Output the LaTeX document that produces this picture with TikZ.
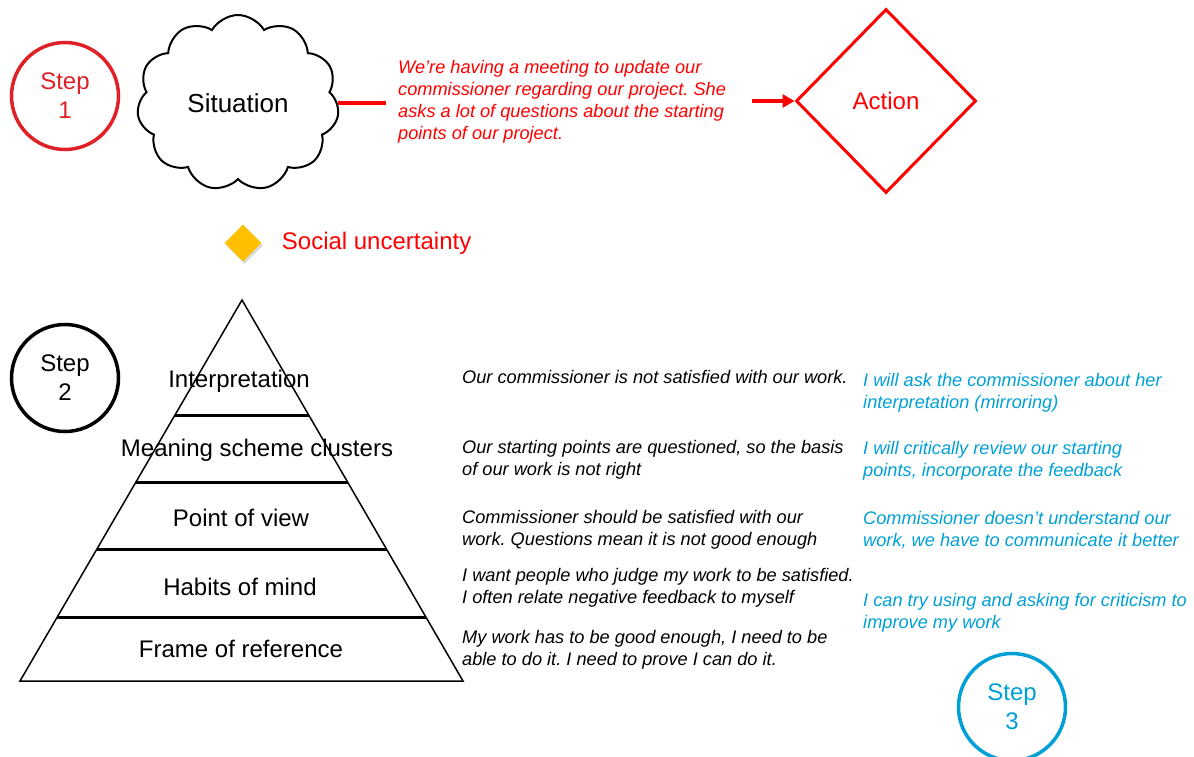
\documentclass[tikz,border=0pt]{standalone}
\usepackage{fontspec}
\setmainfont{Liberation Sans}
\frenchspacing
\usetikzlibrary{shapes.geometric,shapes.symbols,arrows.meta,shadows,calc,positioning}
\definecolor{stepred}{RGB}{224,32,38}
\definecolor{stepblue}{RGB}{0,160,214}
\definecolor{warnyellow}{RGB}{255,192,0}
\tikzset{
  stepcircle/.style={circle, line width=3.5pt, minimum size=107pt, inner sep=0pt, align=center, font=\fontsize{24}{29}\selectfont},
  big/.style={font=\fontsize{24}{29}\selectfont},
  level/.style={big, anchor=base, inner sep=0pt},
  note/.style={anchor=base west, align=left, inner sep=0pt, font=\fontsize{18.2}{22}\selectfont\itshape},
  layer/.style={line width=3pt},
}
\begin{document}
\begin{tikzpicture}[x=1pt,y=-1pt]
    \useasboundingbox (0,0) rectangle (1194,756);
    % Step 1
    \node[stepcircle, draw=stepred, text=stepred] (step1) at (65,96) {Step\\1};
    \node[cloud, draw, line width=2pt, cloud puffs=11, cloud puff arc=120, aspect=1.15,
          minimum width=202pt, minimum height=176pt, inner sep=0pt,
          font=\fontsize{26}{30}\selectfont] (sit) at (238,103) {Situation};
    \node[note, text=red] (meet) at (398,139) {We’re having a meeting to update our\\
        commissioner regarding our project. She\\
        asks a lot of questions about the starting\\
        points of our project.};
    \draw[red, line width=4pt, shorten >=12pt] (sit.east) -- (sit.east -| meet.west);
    \node[diamond, draw=red, line width=3pt, minimum width=180pt, minimum height=184pt,
          inner sep=0pt, text=red, big] (act) at (886,101) {Action};
    \coordinate (ain) at (752,101);
    \draw[red, line width=4pt, -{Triangle[length=12pt,width=13pt]}] (ain) -- (act.west);
    % Social uncertainty
    \node[diamond, fill=warnyellow, minimum size=37pt, inner sep=0pt,
          drop shadow={opacity=0.3, shadow xshift=1.5pt, shadow yshift=-2.5pt}] (warn) at (243,243) {};
    \node[big, text=red, inner sep=0pt, right=20pt of warn] (unc) {Social uncertainty};
    % Step 2
    \node[stepcircle, draw=black] (step2) at (65,378) {Step\\2};
    \coordinate (top) at (242,300);
    \coordinate (bl) at (20,681);
    \coordinate (br) at (463,681);
    \draw[line width=1.5pt] (top) -- (bl) -- (br) -- cycle;
    \foreach \t in {0.302,0.480,0.654,0.832}
        \draw[layer] ($(top)!\t!(bl)$) -- ($(top)!\t!(br)$);
    \node[level] (interp) at (239,387) {Interpretation};
    \node[level] (mean) at (257,456) {Meaning scheme clusters};
    \node[level] (pov) at (241,526) {Point of view};
    \node[level] (habits) at (240,595) {Habits of mind};
    \node[level] (frame) at (241,657) {Frame of reference};
    % Interpretations
    \node[note] (n1) at (462,383) {Our commissioner is not satisfied with our work.};
    \node[note] (n2) at (462,475) {Our starting points are questioned, so the basis\\of our work is not right};
    \node[note] (n3) at (462,545) {Commissioner should be satisfied with our\\work. Questions mean it is not good enough};
    \node[note] (n4) at (462,603) {I want people who judge my work to be satisfied.\\I often relate negative feedback to myself};
    \node[note] (n5) at (462,665) {My work has to be good enough, I need to be\\able to do it. I need to prove I can do it.};
    % Step 3
    \node[note, text=stepblue] (b1) at (863,408) {I will ask the commissioner about her\\interpretation (mirroring)};
    \node[note, text=stepblue] (b2) at (863,476) {I will critically review our starting\\points, incorporate the feedback};
    \node[note, text=stepblue] (b3) at (863,546) {Commissioner doesn’t understand our\\work, we have to communicate it better};
    \node[note, text=stepblue] (b4) at (863,628) {I can try using and asking for criticism to\\improve my work};
    \node[stepcircle, draw=stepblue, text=stepblue] (step3) at (1012,707) {Step\\3};
\end{tikzpicture}
\end{document}
